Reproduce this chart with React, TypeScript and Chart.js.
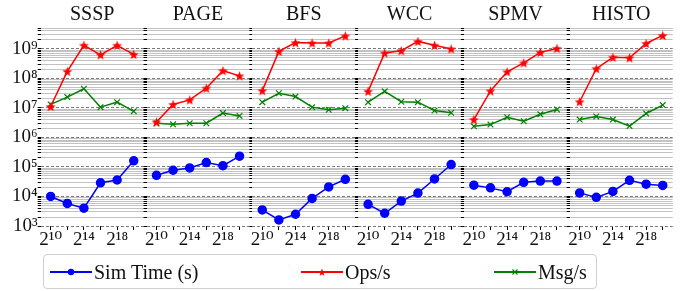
import React, { useEffect, useRef } from 'react';
import { Chart, registerables } from 'chart.js';
Chart.register(...registerables);

const W = 683;
const H = 291;
const FONT = "'Liberation Serif', 'DejaVu Serif', serif";
const BLUE = '#0000ff';
const RED = '#ff0000';
const GREEN = '#008000';

const panels = ['SSSP', 'PAGE', 'BFS', 'WCC', 'SPMV', 'HISTO'];
const exponents = [10, 12, 14, 16, 18, 20];
const labeledExponents = [10, 14, 18];
const seriesNames = ['Sim Time (s)', 'Ops/s', 'Msg/s'];

const simTime = [
  [1.0e4, 5.8e3, 4.0e3, 2.9e4, 3.6e4, 1.6e5],
  [5.2e4, 7.7e4, 9.2e4, 1.4e5, 1.1e5, 2.3e5],
  [3.5e3, 1.6e3, 2.5e3, 8.6e3, 2.1e4, 3.8e4],
  [5.4e3, 2.7e3, 7.0e3, 1.3e4, 3.9e4, 1.2e5],
  [2.4e4, 1.95e4, 1.44e4, 3.0e4, 3.3e4, 3.3e4],
  [1.32e4, 9.3e3, 1.48e4, 3.5e4, 2.6e4, 2.35e4],
];
const opsPerSec = [
  [1.1e7, 1.7e8, 1.3e9, 6.2e8, 1.3e9, 6.4e8],
  [3.3e6, 1.3e7, 1.85e7, 4.6e7, 1.8e8, 1.2e8],
  [3.8e7, 8.1e8, 1.6e9, 1.55e9, 1.55e9, 2.7e9],
  [3.6e7, 7.1e8, 8.5e8, 1.76e9, 1.3e9, 9.8e8],
  [4.0e6, 3.7e7, 1.65e8, 3.3e8, 7.5e8, 1.02e9],
  [1.6e7, 2.1e8, 5.1e8, 4.9e8, 1.5e9, 2.8e9],
];
const msgPerSec = [
  [1.3e7, 2.3e7, 4.4e7, 1.05e7, 1.55e7, 7.6e6],
  [3.0e6, 2.75e6, 3.0e6, 3.0e6, 6.6e6, 5.3e6],
  [1.55e7, 3.1e7, 2.4e7, 1.05e7, 8.5e6, 9.7e6],
  [1.55e7, 3.6e7, 1.6e7, 1.55e7, 8.1e6, 6.8e6],
  [2.35e6, 2.7e6, 4.8e6, 3.5e6, 6.0e6, 8.7e6],
  [4.0e6, 5.1e6, 4.0e6, 2.4e6, 6.4e6, 1.23e7],
];

const Y_MIN = 1e3;
const Y_MAX = 5e9;
const X_MIN = 8.8;
const X_MAX = 21.2;

const PANEL_LEFT0 = 40.7;
const PANEL_STEP = 105.8;
const PANEL_W = 103;
const AREA_BOTTOM = 226;

const SUP = '⁰¹²³⁴⁵⁶⁷⁸⁹';
function sup(n: number): string {
  return String(n).split('').map((d) => SUP[+d]).join('');
}

function isDecade(v: number): boolean {
  const e = Math.log10(v);
  return Math.abs(e - Math.round(e)) < 1e-9;
}

function makeStar(color: string, size: number): HTMLCanvasElement {
  const c = document.createElement('canvas');
  c.width = size;
  c.height = size;
  const g = c.getContext('2d')!;
  const R = size / 2 - 0.3;
  const r = R * 0.42;
  const cx = size / 2;
  const cy = size / 2 + 0.5;
  g.beginPath();
  for (let k = 0; k < 10; k++) {
    const rad = k % 2 === 0 ? R : r;
    const a = -Math.PI / 2 + (k * Math.PI) / 5;
    const x = cx + rad * Math.cos(a);
    const y = cy + rad * Math.sin(a);
    if (k === 0) g.moveTo(x, y);
    else g.lineTo(x, y);
  }
  g.closePath();
  g.fillStyle = color;
  g.fill();
  return c;
}

function Panel({ index }: { index: number }) {
  const ref = useRef<HTMLCanvasElement>(null);
  useEffect(() => {
    const left = PANEL_LEFT0 + index * PANEL_STEP;
    const yW = index === 0 ? left : 3;
    const padLeft = left - yW;
    const padRight = W - (left + PANEL_W);
    const star = makeStar(RED, 11);
    const chart = new Chart(ref.current!, {
      type: 'line',
      data: {
        datasets: [
          {
            label: seriesNames[0],
            data: exponents.map((x, j) => ({ x, y: simTime[index][j] })),
            borderColor: BLUE,
            backgroundColor: BLUE,
            pointStyle: 'circle',
            pointRadius: 4,
            borderWidth: 1.5,
          },
          {
            label: seriesNames[1],
            data: exponents.map((x, j) => ({ x, y: opsPerSec[index][j] })),
            borderColor: RED,
            backgroundColor: RED,
            pointStyle: star as any,
            pointRadius: 5,
            borderWidth: 1.5,
          },
          {
            label: seriesNames[2],
            data: exponents.map((x, j) => ({ x, y: msgPerSec[index][j] })),
            borderColor: GREEN,
            backgroundColor: GREEN,
            pointStyle: 'crossRot',
            pointRadius: 4,
            pointBorderWidth: 1.2,
            borderWidth: 1.5,
          },
        ],
      },
      options: {
        animation: false,
        responsive: false,
        events: [],
        layout: { padding: { left: padLeft, right: padRight, top: 0, bottom: 0 } },
        plugins: {
          legend: { display: false },
          tooltip: { enabled: false },
          title: {
            display: true,
            text: panels[index],
            fullSize: false,
            font: { family: FONT, size: 20, weight: 'normal' },
            color: '#111',
            padding: { top: 3, bottom: 1 },
          },
        },
        scales: {
          x: {
            type: 'linear',
            min: X_MIN,
            max: X_MAX,
            afterBuildTicks: (s: any) => {
              s.ticks = exponents.map((v) => ({ value: v }));
            },
            afterFit: (s: any) => {
              s.height = H - AREA_BOTTOM;
            },
            ticks: {
              autoSkip: false,
              maxRotation: 0,
              minRotation: 0,
              padding: -1,
              color: '#111',
              font: { family: FONT, size: 19 },
              callback: (v: any) => (labeledExponents.includes(Number(v)) ? '2' + sup(Number(v)) : ''),
            },
            grid: {
              drawOnChartArea: false,
              drawTicks: true,
              tickLength: 4,
              tickColor: '#000',
              tickWidth: 1,
            },
            border: { display: false },
          },
          y: {
            type: 'logarithmic',
            min: Y_MIN,
            max: Y_MAX,
            afterBuildTicks: (s: any) => {
              const t: { value: number }[] = [];
              for (let e = 3; e <= 9; e++) {
                for (let k = 1; k <= 9; k++) {
                  const v = k * Math.pow(10, e);
                  if (v <= Y_MAX) t.push({ value: v });
                }
              }
              s.ticks = t;
            },
            afterFit: (s: any) => {
              s.width = yW;
            },
            ticks: {
              display: index === 0,
              autoSkip: false,
              padding: 0,
              color: '#111',
              font: { family: FONT, size: 19 },
              callback: (v: any) => (isDecade(Number(v)) ? '10' + sup(Math.round(Math.log10(Number(v)))) : ''),
            },
            grid: {
              color: (ctx: any) => (ctx.tick && isDecade(ctx.tick.value) ? '#7a7a7a' : '#c2c2c2'),
              lineWidth: 1,
              drawTicks: true,
              tickLength: 3,
              tickColor: '#000',
            },
            border: {
              display: false,
              dash: (ctx: any) => (ctx.tick && isDecade(ctx.tick.value) ? [3, 2] : []),
            },
          },
        },
      } as any,
    });
    return () => chart.destroy();
  }, [index]);
  return (
    <canvas
      ref={ref}
      width={W}
      height={H}
      style={{ position: 'absolute', left: 0, top: 0, width: W, height: H }}
    />
  );
}

function LegendItem({ left, color, marker, text }: { left: number; color: string; marker: string; text: string }) {
  let m: React.ReactNode = null;
  if (marker === 'circle') m = <circle cx={21} cy={8} r={3.2} fill={color} />;
  if (marker === 'star') {
    const pts: string[] = [];
    for (let k = 0; k < 10; k++) {
      const rad = k % 2 === 0 ? 4 : 1.7;
      const a = -Math.PI / 2 + (k * Math.PI) / 5;
      pts.push(`${21 + rad * Math.cos(a)},${8.5 + rad * Math.sin(a)}`);
    }
    m = <polygon points={pts.join(' ')} fill={color} />;
  }
  if (marker === 'x')
    m = (
      <g stroke={color} strokeWidth={1.1}>
        <line x1={18.5} y1={5.5} x2={23.5} y2={10.5} />
        <line x1={18.5} y1={10.5} x2={23.5} y2={5.5} />
      </g>
    );
  return (
    <div style={{ position: 'absolute', left, top: 0, height: 33, display: 'flex', alignItems: 'center' }}>
      <svg width={42} height={16} style={{ display: 'block' }}>
        <line x1={0} y1={8} x2={42} y2={8} stroke={color} strokeWidth={2} />
        {m}
      </svg>
      <span
        style={{
          marginLeft: 2,
          fontFamily: FONT,
          fontSize: 20,
          color: '#111',
          whiteSpace: 'nowrap',
          lineHeight: '20px',
        }}
      >
        {text}
      </span>
    </div>
  );
}

export default function App() {
  return (
    <div style={{ position: 'absolute', left: 0, top: 0, width: W, height: H, background: '#fff', overflow: 'hidden' }}>
      {panels.map((_, i) => (
        <Panel key={i} index={i} />
      ))}
      <div
        style={{
          position: 'absolute',
          left: 43,
          top: 254,
          width: 554,
          height: 35,
          boxSizing: 'border-box',
          border: '1px solid #d0d0d0',
          borderRadius: 4,
          background: '#fff',
        }}
      >
        <LegendItem left={6} color={BLUE} marker="circle" text={seriesNames[0]} />
        <LegendItem left={257} color={RED} marker="star" text={seriesNames[1]} />
        <LegendItem left={450} color={GREEN} marker="x" text={seriesNames[2]} />
      </div>
    </div>
  );
}
